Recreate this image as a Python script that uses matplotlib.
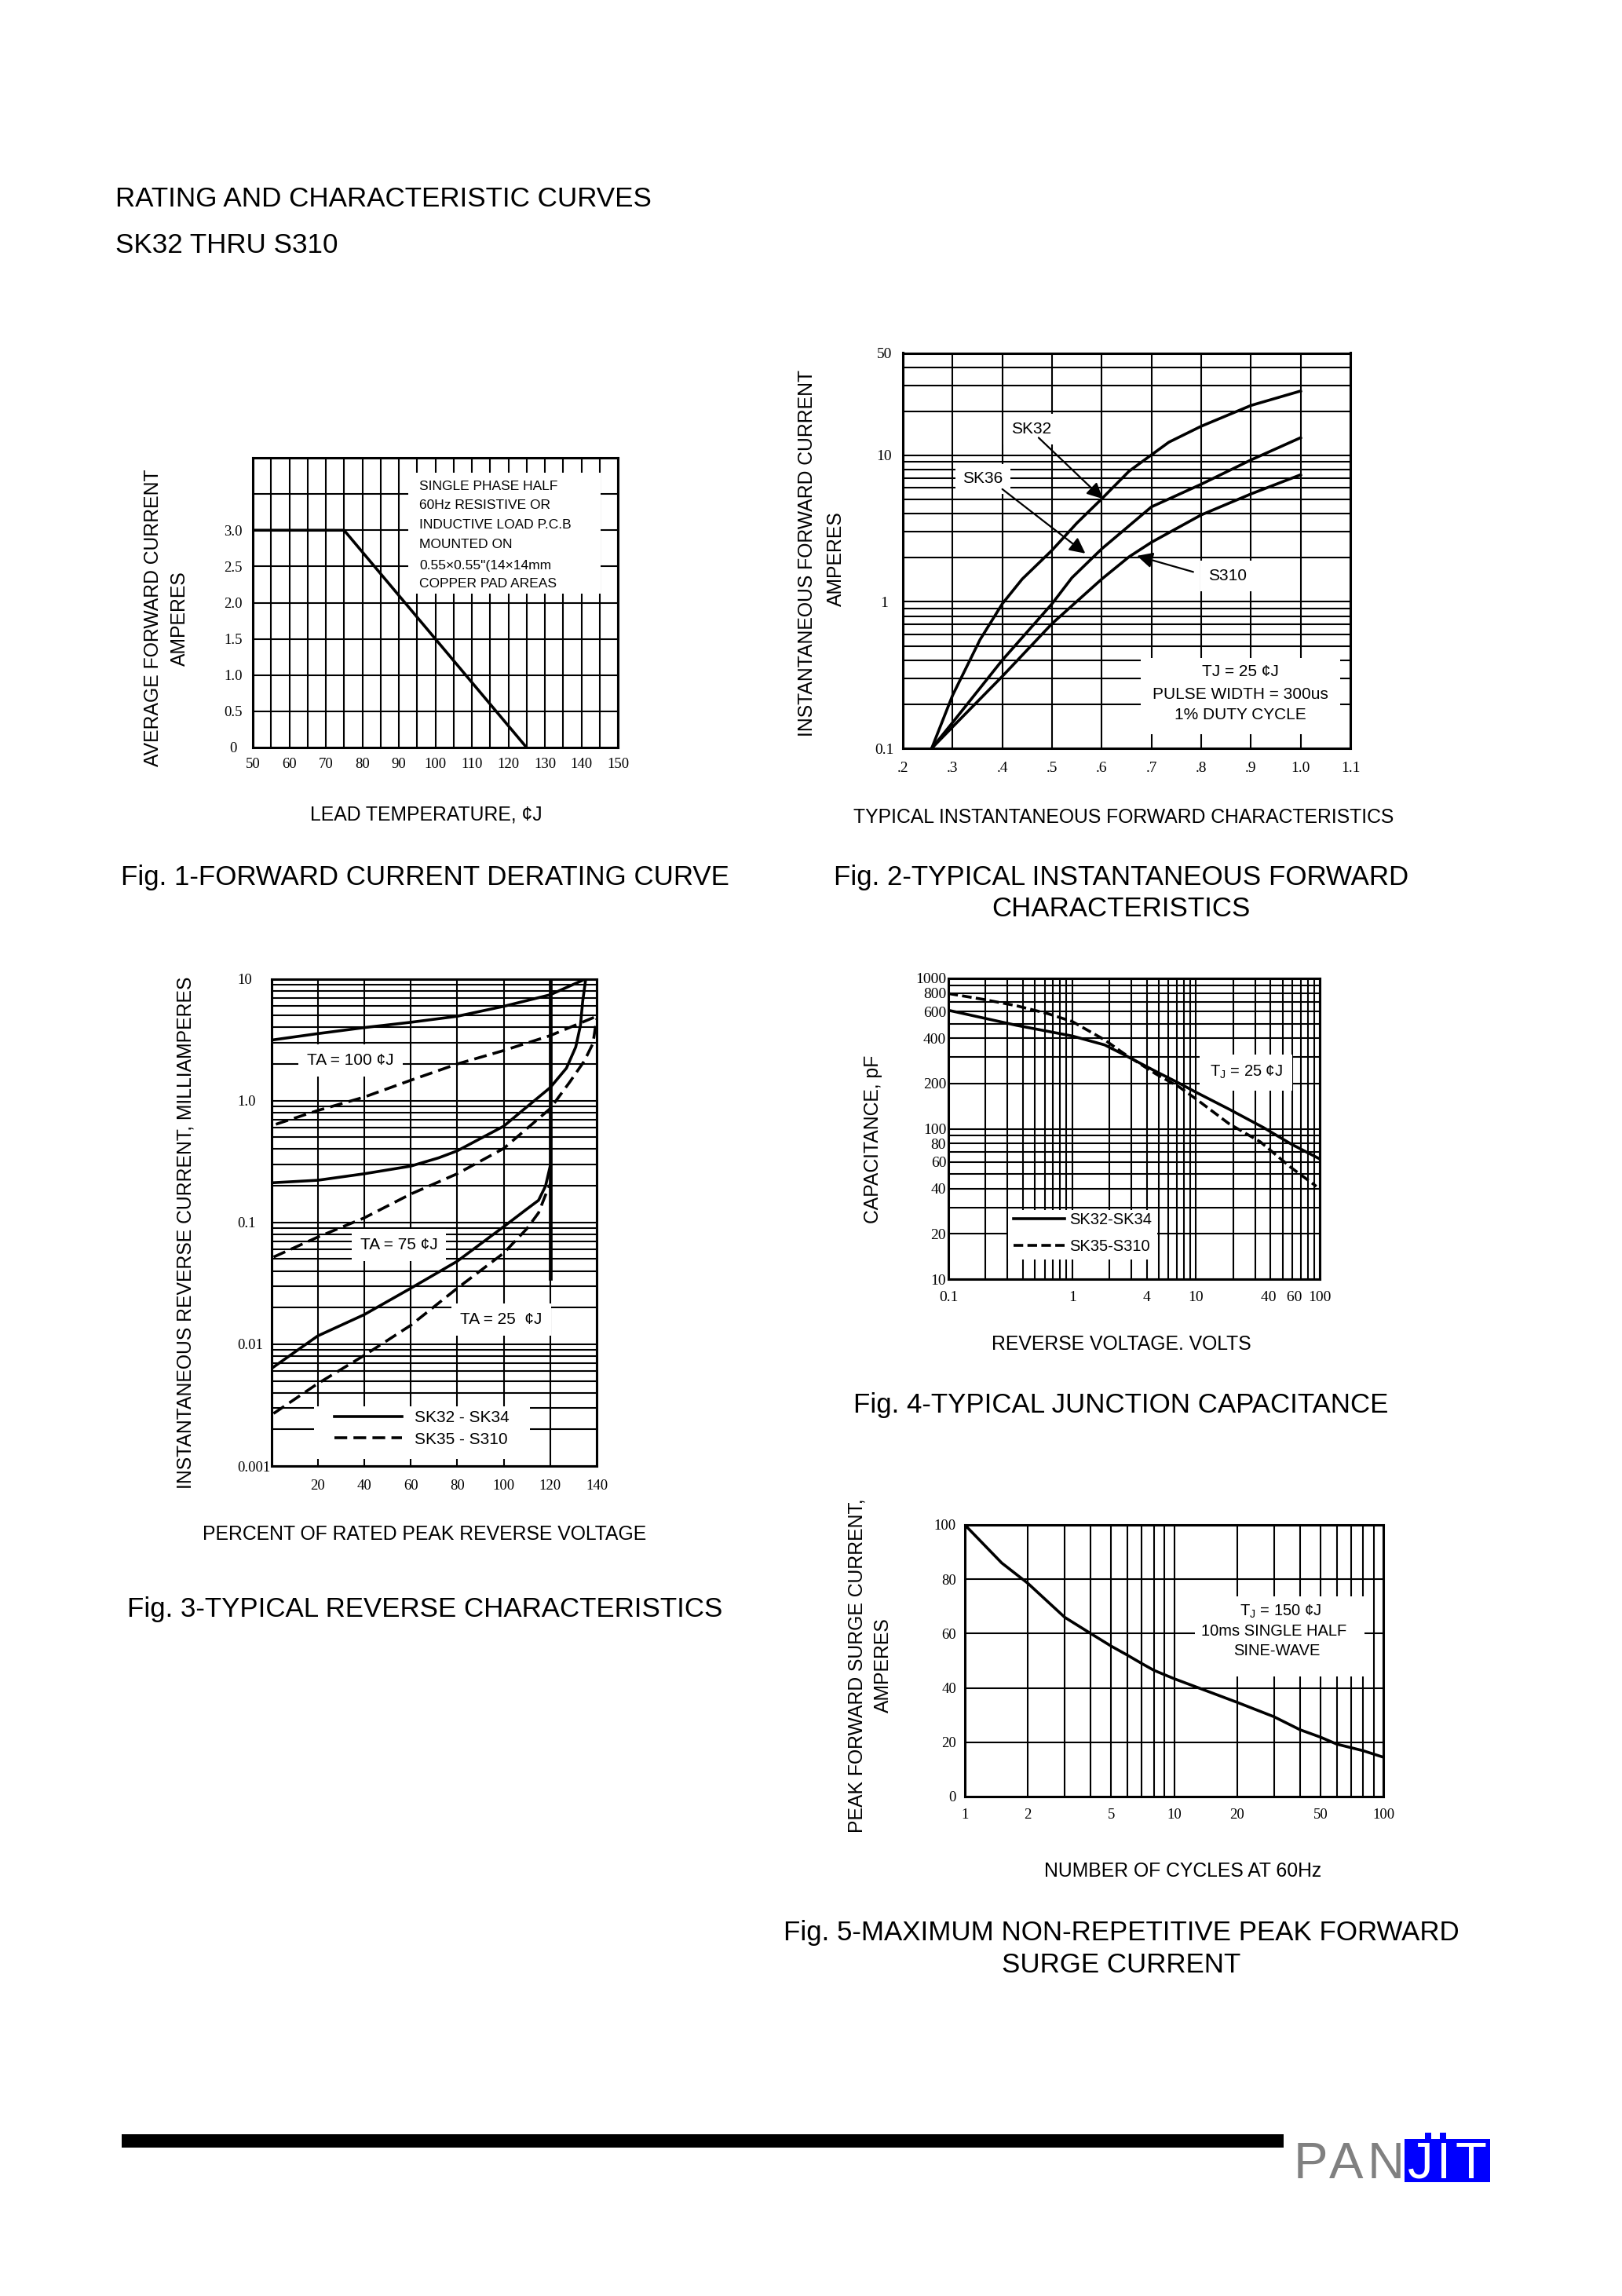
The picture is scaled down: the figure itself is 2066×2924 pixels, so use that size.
import matplotlib
matplotlib.use('Agg')
import matplotlib.pyplot as plt
from matplotlib.patches import Rectangle
from matplotlib.ticker import FixedLocator, NullFormatter, FixedFormatter

plt.rcParams['font.family'] = ['Liberation Sans', 'DejaVu Sans']
plt.rcParams['mathtext.fontset'] = 'custom'
plt.rcParams['mathtext.rm'] = 'Liberation Sans'
plt.rcParams['mathtext.it'] = 'Liberation Sans:italic'
plt.rcParams['mathtext.bf'] = 'Liberation Sans:bold'

# ---------------- DATA ----------------
# Fig 1 - derating curve
f1_temp = [50, 75, 125]
f1_curr = [3.0, 3.0, 0.0]
f1_xticks = [50, 60, 70, 80, 90, 100, 110, 120, 130, 140, 150]
f1_yticks = [0, 0.5, 1.0, 1.5, 2.0, 2.5, 3.0]
f1_ylabels = ['0', '0.5', '1.0', '1.5', '2.0', '2.5', '3.0']

# Fig 2 - forward characteristics
f2_sk32_v = [0.258, 0.30, 0.355, 0.40, 0.44, 0.50, 0.55, 0.60, 0.655, 0.735, 0.80, 0.90, 1.00]
f2_sk32_i = [0.10, 0.23, 0.55, 0.97, 1.43, 2.25, 3.45, 5.05, 7.8, 12.3, 15.8, 21.9, 27.5]
f2_sk36_v = [0.258, 0.30, 0.40, 0.50, 0.54, 0.60, 0.70, 0.80, 0.90, 1.00]
f2_sk36_i = [0.10, 0.15, 0.40, 0.97, 1.46, 2.3, 4.45, 6.35, 9.3, 13.2]
f2_s310_v = [0.258, 0.30, 0.40, 0.50, 0.60, 0.655, 0.70, 0.80, 0.90, 1.00]
f2_s310_i = [0.10, 0.14, 0.31, 0.71, 1.43, 2.03, 2.55, 3.92, 5.45, 7.37]
f2_xticks = [0.2, 0.3, 0.4, 0.5, 0.6, 0.7, 0.8, 0.9, 1.0, 1.1]
f2_xlabels = ['.2', '.3', '.4', '.5', '.6', '.7', '.8', '.9', '1.0', '1.1']
f2_yticks = [0.1, 1, 10, 50]
f2_ylabels = ['0.1', '1', '10', '50']

# Fig 3 - reverse characteristics
f3_100s_x = [1, 20, 40, 60, 80, 100, 120, 135.3]
f3_100s_y = [3.16, 3.55, 3.98, 4.4, 4.93, 5.95, 7.4, 10.0]
f3_100d_x = [2, 20, 40, 60, 80, 100, 120, 140]
f3_100d_y = [0.64, 0.83, 1.07, 1.47, 2.0, 2.58, 3.42, 4.93]
f3_75s_x = [1, 20, 40, 60, 72, 80, 100, 110, 120, 127, 131, 133, 134, 135.3]
f3_75s_y = [0.212, 0.222, 0.251, 0.29, 0.339, 0.387, 0.617, 0.89, 1.28, 1.85, 2.76, 4.12, 6.57, 10.0]
f3_75d_x = [1, 20, 40, 60, 80, 100, 120, 128.4, 134.7, 138.4, 140]
f3_75d_y = [0.052, 0.0758, 0.109, 0.171, 0.251, 0.405, 0.86, 1.42, 2.12, 2.95, 4.7]
f3_25s_x = [1, 20, 40, 60, 80, 100, 110, 115, 118, 120]
f3_25s_y = [0.0065, 0.0117, 0.0175, 0.0288, 0.048, 0.0923, 0.129, 0.152, 0.199, 0.29]
f3_25d_x = [1, 20, 40, 60, 80, 100, 110, 115, 118, 120]
f3_25d_y = [0.0027, 0.00475, 0.0081, 0.0143, 0.0288, 0.056, 0.089, 0.12, 0.168, 0.206]
f3_break_x = [120, 120]
f3_break_y = [0.035, 10]
f3_xticks = [20, 40, 60, 80, 100, 120, 140]
f3_yticks = [0.001, 0.01, 0.1, 1, 10]
f3_ylabels = ['0.001', '0.01', '0.1', '1.0', '10']

# Fig 4 - junction capacitance
f4_v_solid = [0.1, 0.357, 1.0, 1.83, 2.58, 4.72, 7.3, 10, 18.5, 35, 59, 100]
f4_c_solid = [614, 487, 414, 361, 313, 241, 201, 175, 135, 102, 79, 63]
f4_v_dash = [0.1, 0.19, 0.357, 0.64, 1.0, 1.83, 2.58, 4.72, 7.3, 10, 18.5, 33, 59, 94]
f4_c_dash = [793, 726, 657, 582, 517, 390, 319, 232, 190, 158, 108, 82, 55, 41.4]
f4_xticks = [0.1, 1, 4, 10, 40, 60, 100]
f4_xlabels = ['0.1', '1', '4', '10', '40 ', ' 60', '100']
f4_yticks = [10, 20, 40, 60, 80, 100, 200, 400, 600, 800, 1000]
f4_ylabels = ['10', '20', '40', '60', '80', '100', '200', '400', '600', '800', '1000']

# Fig 5 - surge current
f5_n = [1, 1.5, 2, 3, 4, 5, 6, 7, 8, 10, 20, 30, 40, 50, 60, 80, 100]
f5_i = [100, 86, 78.5, 66, 60, 55.4, 52, 49, 46.5, 43.4, 34.7, 29.4, 24.6, 21.9, 19.3, 16.9, 14.5]
f5_xticks = [1, 2, 5, 10, 20, 50, 100]
f5_yticks = [0, 20, 40, 60, 80, 100]

# ---------------- FIGURE ----------------
W, H = 2066, 2924
fig = plt.figure(figsize=(W / 100, H / 100), dpi=100)
fig.patch.set_facecolor('white')

GRID_LW = 1.5
SPINE_LW = 2.2
CURVE_LW = 2.6
SERIF = 'Liberation Serif'
LAB_FS = 17.8
CAP_FS = 25.1


def add_ax(l, t, r, b):
    return fig.add_axes([l / W, 1 - b / H, (r - l) / W, (b - t) / H])


def ftext(x, y, s, **kw):
    kw.setdefault('ha', 'center')
    kw.setdefault('va', 'center')
    if kw['va'] == 'center':
        if kw.get('rotation', 0) == 90:
            x += 4
        else:
            y += 4
    fig.text(x / W, 1 - y / H, s, **kw)


def minors(decades, subs=range(2, 10)):
    return [d * s for d in decades for s in subs]


def style(ax, xmaj, xlab, xmin, ymaj, ylab, ymin, fs=13.5, xpad=8, ypad=5, yha='right'):
    ax.xaxis.set_major_locator(FixedLocator(xmaj))
    ax.xaxis.set_major_formatter(FixedFormatter(xlab))
    ax.xaxis.set_minor_locator(FixedLocator(xmin))
    ax.xaxis.set_minor_formatter(NullFormatter())
    ax.yaxis.set_major_locator(FixedLocator(ymaj))
    ax.yaxis.set_major_formatter(FixedFormatter(ylab))
    ax.yaxis.set_minor_locator(FixedLocator(ymin))
    ax.yaxis.set_minor_formatter(NullFormatter())
    ax.tick_params(which='both', length=0, labelfontfamily=SERIF)
    ax.tick_params(axis='x', pad=xpad, labelsize=fs)
    ax.tick_params(axis='y', pad=ypad, labelsize=fs)
    for lbl in ax.get_yticklabels():
        lbl.set_horizontalalignment(yha)
    ax.grid(True, which='both', color='black', lw=GRID_LW)
    ax.set_axisbelow(True)
    for s in ax.spines.values():
        s.set_linewidth(SPINE_LW)


def white_box(ax, x0, y0, x1, y1):
    ax.add_patch(Rectangle((x0, y0), x1 - x0, y1 - y0, transform=ax.transAxes,
                           fc='white', ec='none', zorder=1))


# ---- page header ----
ftext(147, 249.5, "RATING AND CHARACTERISTIC CURVES", fontsize=25.2, ha='left')
ftext(147, 309, "SK32 THRU S310", fontsize=25.2, ha='left')

# ---- Fig 1 ----
ax1 = add_ax(322, 583, 787, 952)
ax1.set_xlim(50, 150)
ax1.set_ylim(0, 4)
style(ax1, f1_xticks, [str(v) for v in f1_xticks], [55, 65, 75, 85, 95, 105, 115, 125, 135, 145],
      f1_yticks, f1_ylabels, [3.5], xpad=9, ypad=18, yha='center')
white_box(ax1, 0.426, 0.53, 0.953, 0.948)
ax1.plot(f1_temp, f1_curr, color='black', lw=CURVE_LW, zorder=3, solid_capstyle='butt')
for k, line in enumerate(["SINGLE PHASE HALF", "60Hz RESISTIVE OR", "INDUCTIVE LOAD P.C.B",
                          "MOUNTED ON", "0.55\u00d70.55\"(14\u00d714mm", "COPPER PAD AREAS"]):
    ax1.text(0.456, [0.9, 0.835, 0.768, 0.70, 0.628, 0.565][k], line, transform=ax1.transAxes,
             fontsize=12.5, ha='left', va='center', zorder=4)
ftext(543, 1033, "LEAD TEMPERATURE, \u00a2J", fontsize=LAB_FS)
ftext(191, 787, "AVERAGE FORWARD CURRENT", fontsize=LAB_FS, rotation=90)
ftext(225, 788, "AMPERES", fontsize=LAB_FS, rotation=90)
ftext(541, 1113, "Fig. 1-FORWARD CURRENT DERATING CURVE", fontsize=CAP_FS)

# ---- Fig 2 ----
ax2 = add_ax(1150, 449.5, 1720, 953)
ax2.set_yscale('log')
ax2.set_xlim(0.2, 1.1)
ax2.set_ylim(0.1, 50)
style(ax2, f2_xticks, f2_xlabels, [], f2_yticks, f2_ylabels,
      minors([0.1, 1]) + [20, 30, 40], fs=14, xpad=12, ypad=17, yha='center')
white_box(ax2, 0.531, 0.035, 0.977, 0.228)
for v, i in [(f2_sk32_v, f2_sk32_i), (f2_sk36_v, f2_sk36_i), (f2_s310_v, f2_s310_i)]:
    ax2.plot(v, i, color='black', lw=CURVE_LW, zorder=3)
bb = dict(fc='white', ec='none', pad=7)
arr = dict(arrowstyle='-|>', color='black', lw=1.6, mutation_scale=30, shrinkA=0, shrinkB=0)
ax2.text(0.458, 15.1, "SK32", fontsize=15, ha='center', va='center', bbox=bb, zorder=4)
ax2.annotate('', xy=(0.602, 5.05), xytext=(0.473, 13.2), arrowprops=arr, zorder=4)
ax2.text(0.361, 6.9, "SK36", fontsize=15, ha='center', va='center', bbox=bb, zorder=4)
ax2.annotate('', xy=(0.567, 2.14), xytext=(0.40, 5.88), arrowprops=arr, zorder=4)
ax2.text(0.853, 1.5, "S310", fontsize=15, ha='center', va='center', bbox=bb, zorder=4)
ax2.annotate('', xy=(0.671, 2.06), xytext=(0.784, 1.6), arrowprops=arr, zorder=4)
for k, line in enumerate(["TJ = 25 \u00a2J", "PULSE WIDTH = 300us", "1% DUTY CYCLE"]):
    ax2.text(0.754, [0.194, 0.137, 0.084][k], line, transform=ax2.transAxes,
             fontsize=15, ha='center', va='center', zorder=4)
ftext(1024, 704, "INSTANTANEOUS FORWARD CURRENT", fontsize=LAB_FS, rotation=90)
ftext(1061, 712, "AMPERES", fontsize=LAB_FS, rotation=90)
ftext(1431, 1037, "TYPICAL INSTANTANEOUS FORWARD CHARACTERISTICS", fontsize=LAB_FS)
ftext(1428, 1113, "Fig. 2-TYPICAL INSTANTANEOUS FORWARD", fontsize=CAP_FS)
ftext(1428, 1154, "CHARACTERISTICS", fontsize=CAP_FS)

# ---- Fig 3 ----
ax3 = add_ax(345.5, 1246.6, 760, 1867)
ax3.set_yscale('log')
ax3.set_xlim(0, 140)
ax3.set_ylim(0.001, 10)
style(ax3, f3_xticks, [str(v) for v in f3_xticks], [], f3_yticks, f3_ylabels,
      minors([0.001, 0.01, 0.1, 1]), fs=13.5, xpad=12, ypad=31, yha='left')
white_box(ax3, 0.132, 0.014, 0.796, 0.123)
DASH3 = (4.5, 2.2)
ax3.plot(f3_break_x, f3_break_y, color='black', lw=3.4, zorder=2)
s1, = ax3.plot(f3_100s_x, f3_100s_y, color='black', lw=CURVE_LW, zorder=3)
d1, = ax3.plot(f3_100d_x, f3_100d_y, color='black', lw=CURVE_LW, dashes=DASH3, zorder=3)
ax3.plot(f3_75s_x, f3_75s_y, color='black', lw=CURVE_LW, zorder=3)
ax3.plot(f3_75d_x, f3_75d_y, color='black', lw=CURVE_LW, dashes=DASH3, zorder=3)
ax3.plot(f3_25s_x, f3_25s_y, color='black', lw=CURVE_LW, zorder=3)
ax3.plot(f3_25d_x, f3_25d_y, color='black', lw=CURVE_LW, dashes=DASH3, zorder=3)
bb3 = dict(fc='white', ec='none', pad=8)
ax3.text(34.2, 2.14, "TA = 100 \u00a2J", fontsize=15, ha='center', va='center', bbox=bb3, zorder=2)
ax3.text(54.9, 0.065, "TA = 75 \u00a2J", fontsize=15, ha='center', va='center', bbox=bb3, zorder=2)
ax3.text(98.9, 0.016, "TA = 25  \u00a2J", fontsize=15, ha='center', va='center', bbox=bb3, zorder=2)
ax3.legend([s1, d1], ["SK32 - SK34", "SK35 - S310"], loc='center',
           bbox_to_anchor=(0.132, 0.022, 0.664, 0.109), frameon=False, fontsize=15,
           handlelength=4.1, handletextpad=0.8, labelspacing=0.4, borderpad=0.2)
ftext(233, 1570, "INSTANTANEOUS REVERSE CURRENT, MILLIAMPERES", fontsize=LAB_FS, rotation=90)
ftext(541, 1950, "PERCENT OF RATED PEAK REVERSE VOLTAGE", fontsize=LAB_FS)
ftext(541, 2045, "Fig. 3-TYPICAL REVERSE CHARACTERISTICS", fontsize=CAP_FS)

# ---- Fig 4 ----
ax4 = add_ax(1208, 1246, 1681, 1629)
ax4.set_xscale('log')
ax4.set_yscale('log')
ax4.set_xlim(0.1, 100)
ax4.set_ylim(10, 1000)
x4min = [v for v in minors([0.1, 1, 10]) if v not in f4_xticks]
y4min = [v for v in minors([10, 100]) if v not in f4_yticks]
style(ax4, f4_xticks, f4_xlabels, x4min, f4_yticks, f4_ylabels, y4min, fs=14, xpad=11, ypad=2)
white_box(ax4, 0.16, 0.065, 0.563, 0.23)
DASH4 = (3.4, 1.5)
s4, = ax4.plot(f4_v_solid, f4_c_solid, color='black', lw=CURVE_LW, zorder=3)
d4, = ax4.plot(f4_v_dash, f4_c_dash, color='black', lw=CURVE_LW, dashes=DASH4, zorder=3)
ax4.text(25.4, 237, "T$_{\\mathrm{J}}$ = 25 \u00a2J", fontsize=14.5,
         ha='center', va='center', bbox=dict(fc='white', ec='none', pad=9), zorder=2)
ax4.legend([s4, d4], ["SK32-SK34", "SK35-S310"], loc='center',
           bbox_to_anchor=(0.16, 0.07, 0.403, 0.165), frameon=False, fontsize=14.5,
           handlelength=3.2, handletextpad=0.3, labelspacing=0.75, borderpad=0.2)
ftext(1108, 1451, "CAPACITANCE, pF", fontsize=LAB_FS, rotation=90)
ftext(1428, 1708, "REVERSE VOLTAGE. VOLTS", fontsize=LAB_FS)
ftext(1428, 1786, "Fig. 4-TYPICAL JUNCTION CAPACITANCE", fontsize=CAP_FS)

# ---- Fig 5 ----
ax5 = add_ax(1229, 1942, 1762, 2288)
ax5.set_xscale('log')
ax5.set_xlim(1, 100)
ax5.set_ylim(0, 100)
x5min = [v for v in minors([1, 10]) if v not in f5_xticks]
style(ax5, f5_xticks, [str(v) for v in f5_xticks], x5min, f5_yticks,
      [str(v) for v in f5_yticks], [], fs=13.5, xpad=11, ypad=8)
white_box(ax5, 0.55, 0.443, 0.955, 0.737)
ax5.plot(f5_n, f5_i, color='black', lw=CURVE_LW, zorder=3)
ax5.text(0.754, 0.682, "T$_{\\mathrm{J}}$ = 150 \u00a2J", transform=ax5.transAxes,
         fontsize=14.5, ha='center', va='center', zorder=4)
ax5.text(0.738, 0.607, "10ms SINGLE HALF", transform=ax5.transAxes,
         fontsize=14.5, ha='center', va='center', zorder=4)
ax5.text(0.745, 0.535, "SINE-WAVE", transform=ax5.transAxes,
         fontsize=14.5, ha='center', va='center', zorder=4)
ftext(1087, 2121, "PEAK FORWARD SURGE CURRENT,", fontsize=LAB_FS, rotation=90)
ftext(1121, 2121, "AMPERES", fontsize=LAB_FS, rotation=90)
ftext(1507, 2379, "NUMBER OF CYCLES AT 60Hz", fontsize=LAB_FS)
ftext(1428, 2458, "Fig. 5-MAXIMUM NON-REPETITIVE PEAK FORWARD", fontsize=CAP_FS)
ftext(1428, 2499, "SURGE CURRENT", fontsize=CAP_FS)

# ---- footer rule and logo ----
def frect(x0, y0, x1, y1, color):
    fig.add_artist(Rectangle((x0 / W, 1 - y1 / H), (x1 - x0) / W, (y1 - y0) / H,
                             transform=fig.transFigure, fc=color, ec='none'))

frect(155, 2718, 1635, 2735, 'black')
for ch, cx in [("P", 1669), ("A", 1715), ("N", 1765)]:
    ftext(cx, 2774, ch, fontsize=47, ha='center', va='baseline', color='#808080')
frect(1789, 2724, 1898, 2779, '#0000ff')
frect(1815, 2716, 1823, 2724, '#0000ff')
frect(1834, 2716, 1842, 2724, '#0000ff')
for ch, cx in [("J", 1809), ("I", 1839), ("T", 1873)]:
    ftext(cx, 2774, ch, fontsize=47, ha='center', va='baseline', color='white')

fig.savefig('out.png', dpi=100, facecolor='white')
